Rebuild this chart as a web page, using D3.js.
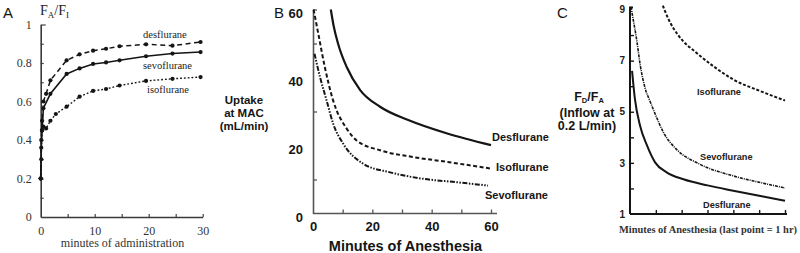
<!DOCTYPE html>
<html><head><meta charset="utf-8">
<script src="https://cdn.jsdelivr.net/npm/d3@7"></script>
<style>
body{margin:0;background:#fff;}
svg{display:block;}
</style></head>
<body>
<svg id="c" width="800" height="253"></svg>
<script>
// ---------- Panel A data : F_A/F_I vs minutes of administration ----------
const aDesflurane = [[0,0.2],[0.1,0.4],[0.25,0.5],[0.5,0.6],[1,0.64],[1.8,0.71],[4.8,0.814],[7.2,0.845],[9.7,0.864],[12.1,0.874],[14.6,0.887],[19.5,0.897],[24.4,0.89],[29.6,0.909]];
const aSevoflurane = [[0,0.2],[0.1,0.36],[0.25,0.45],[0.5,0.565],[1.8,0.64],[4.8,0.743],[7.2,0.772],[9.7,0.795],[12.1,0.803],[14.6,0.814],[19.5,0.835],[24.4,0.849],[29.6,0.857]];
const aIsoflurane = [[0,0.2],[0.1,0.3],[0.25,0.45],[0.5,0.47],[1,0.46],[1.8,0.5],[2.8,0.535],[4.8,0.573],[7.2,0.625],[9.7,0.655],[12.1,0.665],[14.6,0.683],[19.5,0.707],[24.4,0.718],[29.6,0.727]];
const aYTicks = [0,0.2,0.4,0.6,0.8,1];
const aYMinor = [0.1,0.2,0.3,0.4,0.5,0.6,0.7,0.8,0.9,1];
const aXTicks = [0,10,20,30];
const aXMinor = [5,10,15,20,25,30];

// ---------- Panel B data : Uptake at MAC (mL/min) vs minutes ----------
const bDesflurane = [[6,60],[7,55],[8.5,49.8],[11.4,43],[15.9,36.3],[22.6,31.4],[32.1,27.5],[45,23.6],[60,20.1]];
const bIsoflurane = [[0.2,60],[1.8,52.8],[4,43],[6.8,33.2],[11.4,24.9],[14.7,21.5],[22.6,18.6],[33.8,16.6],[45,15.2],[60,13.2]];
const bSevoflurane = [[0.5,47],[2.4,40],[4.6,33.2],[6.8,26.4],[10.2,20.5],[17,14.6],[26,12.1],[37.2,10.2],[48.5,9.2],[59,8.2]];
const bYTicks = [0,20,40,60];
const bYMinor = [10,30,50,60];
const bXTicks = [0,20,40,60];
const bXMinor = [10,20,30,40,50,60];

// ---------- Panel C data : F_D/F_A (inflow 0.2 L/min) vs minutes ----------
const cDesflurane = [[0.8,6.6],[1.9,5.5],[3.9,4.45],[6.5,3.7],[9.7,3.02],[14.2,2.63],[20.7,2.36],[30,2.12],[40,1.91],[50,1.71],[60,1.52]];
const cSevoflurane = [[0.4,9.1],[1,8.75],[2.6,7.8],[4,6.8],[5.8,5.94],[7.8,5.4],[10,4.85],[12.9,4.2],[18,3.53],[27,2.95],[40,2.49],[50,2.24],[60,2.02]];
const cIsoflurane = [[12.7,9.15],[15,8.6],[19,7.95],[25.8,7.3],[32.3,6.78],[40,6.26],[50.4,5.81],[60,5.44]];
const cYTicks = [1,3,5,7,9];
const cYMinor = [2,3,4,5,6,7,8];
const cXMinor = [10,20,30,40,50,60];

const svg = d3.select("#c");
const INK = "#151515";
const SERIF = "'Liberation Serif','DejaVu Serif',serif";
const SANS = "'Liberation Sans',Arial,sans-serif";

function styleAxis(g, color, width){
  g.select(".domain").attr("stroke", color).attr("stroke-width", width);
  g.selectAll(".tick line").attr("stroke", color).attr("stroke-width", width);
}

// ================= Panel A =================
const xA = d3.scaleLinear().domain([0,30]).range([40.7,202.7]);
const yA = d3.scaleLinear().domain([0,1]).range([217,24.5]);
const gA = svg.append("g");

const ayMin = gA.append("g").attr("transform",`translate(${xA(0)},0)`)
  .call(d3.axisLeft(yA).tickValues(aYMinor).tickSize(-3).tickFormat(""));
ayMin.select(".domain").remove();
ayMin.selectAll(".tick line").attr("stroke","#444").attr("stroke-width",1.2)
  .attr("x2", d => d===1 ? 5 : 3);
const ay = gA.append("g").attr("transform",`translate(${xA(0)},0)`)
  .call(d3.axisLeft(yA).tickValues(aYTicks).tickSize(0).tickSizeOuter(0).tickPadding(9)
    .tickFormat(d => d===0 ? "0" : d===1 ? "1" : d3.format(".1f")(d)));
styleAxis(ay,"#3a3a3a",1.6);
ay.selectAll("text").attr("font-family",SERIF).attr("font-size",12).attr("fill","#333");

const axMin = gA.append("g").attr("transform",`translate(0,${yA(0)})`)
  .call(d3.axisBottom(xA).tickValues(aXMinor).tickSize(-3).tickFormat(""));
axMin.select(".domain").remove();
axMin.selectAll(".tick line").attr("stroke","#444").attr("stroke-width",1.2);
const ax = gA.append("g").attr("transform",`translate(0,${yA(0)})`)
  .call(d3.axisBottom(xA).tickValues(aXTicks).tickSize(0).tickSizeOuter(0).tickPadding(9));
styleAxis(ax,"#3a3a3a",1.6);
ax.selectAll("text").attr("font-family",SERIF).attr("font-size",12).attr("fill","#333");

const lineA = d3.line().x(d=>xA(d[0])).y(d=>yA(d[1]));
const seriesA = [
  {data:aDesflurane, dash:"5,3.5", w:1.5},
  {data:aSevoflurane, dash:null, w:1.6},
  {data:aIsoflurane, dash:"1.8,2", w:1.4}
];
seriesA.forEach(s=>{
  gA.append("path").attr("d",lineA(s.data)).attr("fill","none")
    .attr("stroke",INK).attr("stroke-width",s.w).attr("stroke-dasharray",s.dash);
  gA.selectAll(null).data(s.data).join("circle")
    .attr("cx",d=>xA(d[0])).attr("cy",d=>yA(d[1])).attr("r",2.1).attr("fill",INK);
});

gA.append("text").attr("x",3).attr("y",18).attr("font-family",SANS).attr("font-size",15).attr("fill",INK).text("A");
const tA = gA.append("text").attr("x",40).attr("y",15).attr("font-family",SERIF).attr("font-size",14).attr("fill","#222");
tA.append("tspan").text("F");
tA.append("tspan").attr("font-size",9).attr("dy",3).text("A");
tA.append("tspan").attr("dy",-3).text("/F");
tA.append("tspan").attr("font-size",9).attr("dy",3).text("I");

const aLab = [["desflurane",143,38],["sevoflurane",143,69],["isoflurane",147,93]];
aLab.forEach(l=>gA.append("text").attr("x",l[1]).attr("y",l[2]).attr("font-family",SERIF)
  .attr("font-size",10.5).attr("fill","#222").text(l[0]));
gA.append("text").attr("x",122.5).attr("y",247).attr("text-anchor","middle")
  .attr("font-family",SERIF).attr("font-size",12).attr("fill","#333").text("minutes of administration");

// ================= Panel B =================
const xB = d3.scaleLinear().domain([0,60]).range([313,491]);
const yB = d3.scaleLinear().domain([0,60]).range([213.5,9.5]);
const gB = svg.append("g");

const byMin = gB.append("g").attr("transform",`translate(${xB(0)},0)`)
  .call(d3.axisLeft(yB).tickValues(bYMinor).tickSize(-4).tickFormat(""));
byMin.select(".domain").remove();
byMin.selectAll(".tick line").attr("stroke","#555").attr("stroke-width",1.3);
const by = gB.append("g").attr("transform",`translate(${xB(0)},0)`)
  .call(d3.axisLeft(yB).tickValues(bYTicks).tickSize(0).tickSizeOuter(0).tickPadding(10));
styleAxis(by,"#555",1.6);
by.selectAll("text").attr("font-family",SANS).attr("font-weight","bold").attr("font-size",13)
  .attr("fill",INK).attr("dy","0.58em");

const bxMin = gB.append("g").attr("transform",`translate(0,${yB(0)})`)
  .call(d3.axisBottom(xB).tickValues(bXMinor).tickSize(-4).tickFormat(""));
bxMin.select(".domain").remove();
bxMin.selectAll(".tick line").attr("stroke","#555").attr("stroke-width",1.3);
const bx = gB.append("g").attr("transform",`translate(0,${yB(0)})`)
  .call(d3.axisBottom(xB).tickValues(bXTicks).tickSize(0).tickSizeOuter(0).tickPadding(8.5));
styleAxis(bx,"#555",1.6);
bx.select(".domain").attr("d",`M${xB(0)},0H${xB(60)+6}`);
bx.selectAll("text").attr("font-family",SANS).attr("font-weight","bold").attr("font-size",13).attr("fill",INK);

const lineB = d3.line().x(d=>xB(d[0])).y(d=>yB(d[1])).curve(d3.curveMonotoneX);
const seriesB = [
  {data:bDesflurane, dash:null, w:2.2},
  {data:bIsoflurane, dash:"4,2.5", w:2},
  {data:bSevoflurane, dash:"5,1.5,1.5,1.5,1.5,1.5", w:2}
];
seriesB.forEach(s=>gB.append("path").attr("d",lineB(s.data)).attr("fill","none")
  .attr("stroke",INK).attr("stroke-width",s.w).attr("stroke-dasharray",s.dash));

gB.append("text").attr("x",274).attr("y",18).attr("font-family",SANS).attr("font-size",15).attr("fill",INK).text("B");
const upLab = [["Uptake",104],["at MAC",117],["(mL/min)",130]];
upLab.forEach(l=>gB.append("text").attr("x",244).attr("y",l[1]).attr("text-anchor","middle")
  .attr("font-family",SANS).attr("font-weight","bold").attr("font-size",11.5).attr("fill",INK).text(l[0]));
const bLab = [["Desflurane",492,141],["Isoflurane",496,171],["Sevoflurane",485,199]];
bLab.forEach(l=>gB.append("text").attr("x",l[1]).attr("y",l[2]).attr("font-family",SANS)
  .attr("font-weight","bold").attr("font-size",11).attr("fill",INK).text(l[0]));
gB.append("text").attr("x",405.5).attr("y",251).attr("text-anchor","middle")
  .attr("font-family",SANS).attr("font-weight","bold").attr("font-size",14.5).attr("fill",INK)
  .text("Minutes of Anesthesia");

// ================= Panel C =================
const xC = d3.scaleLinear().domain([0,60]).range([630,785]);
const yC = d3.scaleLinear().domain([1,9]).range([214,9.5]);
const gC = svg.append("g");

const cyMin = gC.append("g").attr("transform",`translate(${xC(0)},0)`)
  .call(d3.axisLeft(yC).tickValues(cYMinor).tickSize(-4).tickFormat(""));
cyMin.select(".domain").remove();
cyMin.selectAll(".tick line").attr("stroke",INK).attr("stroke-width",1.4);
const cy = gC.append("g").attr("transform",`translate(${xC(0)},0)`)
  .call(d3.axisLeft(yC).tickValues(cYTicks).tickSize(0).tickSizeOuter(0).tickPadding(5));
styleAxis(cy,INK,2);
cy.select(".domain").attr("d",`M0,${yC(1)}V${yC(9)-2}H3`);
cy.selectAll("text").attr("font-family",SANS).attr("font-weight","bold").attr("font-size",10).attr("fill","#222");

const cxMin = gC.append("g").attr("transform",`translate(0,${yC(1)})`)
  .call(d3.axisBottom(xC).tickValues(cXMinor).tickSize(-4).tickFormat(""));
cxMin.select(".domain").attr("stroke",INK).attr("stroke-width",2)
  .attr("d",`M${xC(0)},0H${xC(60)+2}`);
cxMin.selectAll(".tick line").attr("stroke",INK).attr("stroke-width",1.4);

const lineC = d3.line().x(d=>xC(d[0])).y(d=>yC(d[1])).curve(d3.curveMonotoneX);
const seriesC = [
  {data:cDesflurane, dash:null, w:2},
  {data:cSevoflurane, dash:"3,1,1,1", w:1.6},
  {data:cIsoflurane, dash:"3,1.8", w:2}
];
seriesC.forEach(s=>gC.append("path").attr("d",lineC(s.data)).attr("fill","none")
  .attr("stroke",INK).attr("stroke-width",s.w).attr("stroke-dasharray",s.dash));

gC.append("text").attr("x",557).attr("y",18).attr("font-family",SANS).attr("font-size",15).attr("fill",INK).text("C");
const fd = gC.append("text").attr("x",589).attr("y",101).attr("text-anchor","middle")
  .attr("font-family",SANS).attr("font-weight","bold").attr("font-size",12.5).attr("fill",INK);
fd.append("tspan").text("F");
fd.append("tspan").attr("font-size",7.5).attr("dy",2).text("D");
fd.append("tspan").attr("dy",-2).text("/F");
fd.append("tspan").attr("font-size",7.5).attr("dy",2).text("A");
[["(Inflow at",117],["0.2 L/min)",130]].forEach(l=>gC.append("text").attr("x",587).attr("y",l[1])
  .attr("text-anchor","middle").attr("font-family",SANS).attr("font-weight","bold")
  .attr("font-size",12.5).attr("fill",INK).text(l[0]));
const cLab = [["Isoflurane",697,95],["Sevoflurane",700,160],["Desflurane",703,208]];
cLab.forEach(l=>gC.append("text").attr("x",l[1]).attr("y",l[2]).attr("font-family",SANS)
  .attr("font-weight","bold").attr("font-size",9.2).attr("fill","#222").text(l[0]));
gC.append("text").attr("x",619).attr("y",233).attr("font-family",SERIF).attr("font-weight","bold")
  .attr("font-size",10).attr("textLength",178).attr("lengthAdjust","spacingAndGlyphs")
  .attr("fill","#333").text("Minutes of Anesthesia (last point = 1 hr)");
</script>
</body></html>
